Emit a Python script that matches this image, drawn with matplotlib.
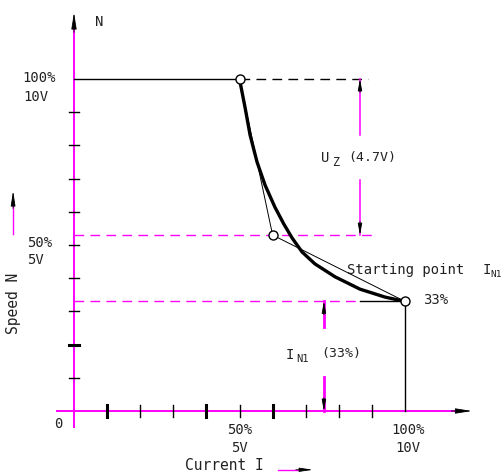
import matplotlib
matplotlib.use("Agg")
import matplotlib.pyplot as plt

# ---- data (percent of full scale) ----
curve_current = [50, 51.7, 53.2, 55.3, 57.7, 60.7, 63.4, 65.9, 68.9, 72.8, 78.9, 86.4, 94, 100]
curve_speed = [100, 91.3, 83.1, 75, 68.1, 61.4, 56.3, 52.1, 47.9, 44.3, 40.4, 36.7, 34.3, 33]
approx_current = [50, 60, 100]
approx_speed = [100, 53, 33]
point_current = [50, 60, 100]
point_speed = [100, 53, 33]
yticks = [10, 20, 30, 40, 50, 60, 70, 80, 90]
xticks = [10, 20, 30, 40, 50, 60, 70, 80, 90]
thick_xticks = [10, 40, 60]
thick_yticks = [20]
uz_level = 53      # speed where Uz dimension ends
in1_level = 33     # starting point speed
uz_x = 86.4
in1_x = 75.5

MAG = "#ff00ff"
TXT = "#222222"
plt.rcParams["font.family"] = ["DejaVu Sans Mono"]

fig = plt.figure(figsize=(5.04, 4.75), dpi=100)
ax = fig.add_axes([0, 0, 1, 1])
ax.set_xlim(-74 / 3.31, (504 - 74) / 3.31)
ax.set_ylim((411 - 475) / 3.32, 411 / 3.32)
ax.axis("off")

def head(x0, y0, x1, y1, hl=1.0, hw=0.16):
    ax.annotate("", xy=(x1, y1), xytext=(x0, y0),
                arrowprops=dict(arrowstyle=f"-|>,head_length={hl},head_width={hw}",
                                color="black", lw=0.6, shrinkA=0, shrinkB=0))

# axes
ax.plot([0, 0], [-4.8, 116], color=MAG, lw=1.4, zorder=2)
ax.plot([-5.1, 116], [0, 0], color=MAG, lw=1.4, zorder=2)
head(0, 114, 0, 120.0)
head(114, 0, 120.2, 0)

# ticks
tl = 1.65
for t in yticks:
    ax.plot([-tl, tl], [t, t], color="black", lw=2.2 if t in thick_yticks else 1.0, zorder=3)
for t in xticks:
    ax.plot([t, t], [-1.9, 1.9], color="black", lw=2.2 if t in thick_xticks else 1.0, zorder=3)

# reference lines
ax.plot([0, point_current[0]], [100, 100], color="black", lw=1.0, zorder=3)
ax.plot([point_current[0], 88.8], [100, 100], color="black", lw=1.0, dashes=(7, 4.5), zorder=3)
ax.plot([0, 90.3], [uz_level, uz_level], color=MAG, lw=1.0, dashes=(7, 4.5), zorder=3)
ax.plot([0, 86.4], [in1_level, in1_level], color=MAG, lw=1.0, dashes=(7, 4.5), zorder=3)
ax.plot([86.4, 100], [in1_level, in1_level], color="black", lw=1.0, zorder=3)
ax.plot([100, 100], [0, in1_level], color="black", lw=1.0, zorder=3)

# curves
ax.plot(approx_current, approx_speed, color="black", lw=0.7, zorder=4)
ax.plot(curve_current, curve_speed, color="black", lw=2.4, zorder=5,
        solid_capstyle="round", solid_joinstyle="round")
ax.plot(point_current, point_speed, "o", ms=6.5, mfc="white", mec="black", mew=1.0, zorder=6)

# Uz dimension
ax.plot([uz_x, uz_x], [100, 83], color=MAG, lw=1.1, zorder=3)
ax.plot([uz_x, uz_x], [69.6, uz_level], color=MAG, lw=1.1, zorder=3)
head(uz_x, 96, uz_x, 100, hl=0.7, hw=0.13)
head(uz_x, 57, uz_x, uz_level, hl=0.7, hw=0.13)
ax.text(74.6, 76.2, "U", fontsize=10, color=TXT, ha="left", va="center")
ax.text(78.0, 74.8, "Z", fontsize=8.5, color=TXT, ha="left", va="center")
ax.text(83.0, 76.4, "(4.7V)", fontsize=9.5, color=TXT, ha="left", va="center")

# IN1 dimension
ax.plot([in1_x, in1_x], [in1_level, 25.3], color=MAG, lw=2.0, zorder=3)
ax.plot([in1_x, in1_x], [10.2, 0], color=MAG, lw=2.0, zorder=3)
head(in1_x, 29, in1_x, in1_level, hl=0.7, hw=0.13)
head(in1_x, 4, in1_x, 0, hl=0.7, hw=0.13)
ax.text(63.9, 17.0, "I", fontsize=10, color=TXT, ha="left", va="center")
ax.text(67.2, 15.6, "N1", fontsize=7.5, color=TXT, ha="left", va="center")
ax.text(74.8, 17.3, "(33%)", fontsize=9.5, color=TXT, ha="left", va="center")

# annotations
ax.text(82.5, 42.6, "Starting point", fontsize=10, color=TXT, ha="left", va="center")
ax.text(123.4, 42.6, "I", fontsize=10, color=TXT, ha="left", va="center")
ax.text(125.9, 41.0, "N1", fontsize=6.8, color=TXT, ha="left", va="center")
ax.text(105.6, 33.4, "33%", fontsize=10, color=TXT, ha="left", va="center")

# axis labels
ax.text(6.3, 117.3, "N", fontsize=10, color=TXT, ha="left", va="center")
ax.text(-4.8, -3.9, "0", fontsize=10, color=TXT, ha="center", va="center")
ax.text(-15.7, 100.4, "100%", fontsize=10, color=TXT, ha="left", va="center")
ax.text(-15.4, 94.6, "10V", fontsize=10, color=TXT, ha="left", va="center")
ax.text(-14.2, 50.6, "50%", fontsize=10, color=TXT, ha="left", va="center")
ax.text(-14.2, 45.4, "5V", fontsize=10, color=TXT, ha="left", va="center")
ax.text(50.0, -5.7, "50%", fontsize=10, color=TXT, ha="center", va="center")
ax.text(50.0, -11.1, "5V", fontsize=10, color=TXT, ha="center", va="center")
ax.text(100.8, -5.7, "100%", fontsize=10, color=TXT, ha="center", va="center")
ax.text(100.8, -11.1, "10V", fontsize=10, color=TXT, ha="center", va="center")
ax.text(33.5, -16.5, "Current I", fontsize=10.5, color=TXT, ha="left", va="center")
ax.plot([61.5, 68], [-17.7, -17.7], color=MAG, lw=1.0)
head(67, -17.7, 72.2, -17.7, hl=0.8, hw=0.12)
ax.text(-18.4, 32.5, "Speed N", fontsize=10.5, color=TXT, ha="center", va="center", rotation=90)
ax.plot([-18.4, -18.4], [53.4, 62], color=MAG, lw=1.0)
head(-18.4, 61, -18.4, 66.3, hl=0.9, hw=0.14)

fig.savefig("out.png", dpi=100)
